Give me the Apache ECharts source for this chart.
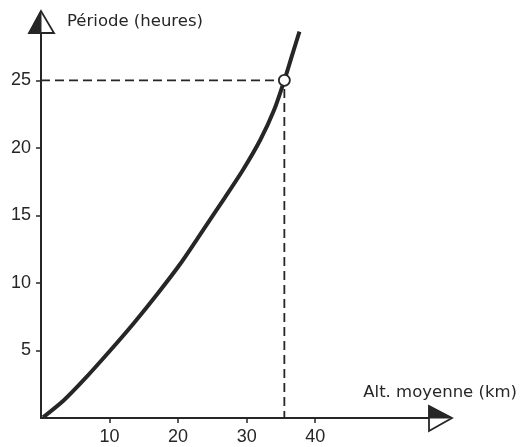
<!DOCTYPE html>
<html><head><meta charset="utf-8">
<script src="https://cdn.jsdelivr.net/npm/echarts@6/dist/echarts.min.js"></script>
<style>html,body{margin:0;padding:0;background:#fff}#c{width:520px;height:447px}</style>
</head><body><div id="c"></div>
<script>
// Data
var altitude = [0.3, 3.3, 6.2, 10.1, 13.5, 17.0, 20.3, 23.5, 26.8, 29.5, 32.0, 34.0, 35.5, 36.6, 37.7];
var period   = [0.05, 1.3, 2.8, 5.0, 7.0, 9.2, 11.4, 13.8, 16.3, 18.4, 20.6, 22.8, 25.0, 26.8, 28.6];
var geoAltitude = 35.5;
var geoPeriod = 25;
var xTicks = [10, 20, 30, 40];
var yTicks = [5, 10, 15, 20, 25];
var xMax = 56.6, yMax = 28.5;

var ink = '#262626';
var curve = altitude.map(function (a, i) { return [a, period[i]]; });

var chart = echarts.init(document.getElementById('c'), null, {renderer: 'canvas'});
chart.setOption({
  backgroundColor: '#fff',
  animation: false,
  grid: {left: 41, right: 91, top: 33, bottom: 29, containLabel: false},
  xAxis: {
    type: 'value', min: 0, max: xMax, interval: 10,
    name: 'Alt. moyenne (km)', nameLocation: 'end', nameGap: 88,
    nameTextStyle: {fontFamily: 'DejaVu Sans', fontSize: 16.5, color: ink, align: 'right', verticalAlign: 'bottom', padding: [0, 0, 17, 0]},
    axisLine: {show: true, lineStyle: {color: ink, width: 2}},
    axisTick: {show: true, length: 5, customValues: xTicks, lineStyle: {color: ink, width: 1.5}},
    axisLabel: {customValues: xTicks, margin: 10, fontFamily: 'Liberation Sans', fontSize: 18, color: ink},
    splitLine: {show: false}
  },
  yAxis: {
    type: 'value', min: 0, max: yMax, interval: 5,
    name: 'Période (heures)', nameLocation: 'end', nameGap: 11,
    nameTextStyle: {fontFamily: 'DejaVu Sans', fontSize: 16.5, color: ink, align: 'left', verticalAlign: 'middle', padding: [0, 0, 0, 26]},
    axisLine: {show: true, lineStyle: {color: ink, width: 2}},
    axisTick: {show: true, length: 5, customValues: yTicks, lineStyle: {color: ink, width: 1.5}},
    axisLabel: {customValues: yTicks, margin: 10, fontFamily: 'Liberation Sans', fontSize: 18, color: ink},
    splitLine: {show: false}
  },
  series: [
    {
      type: 'line', data: curve, smooth: 0.25, showSymbol: false,
      lineStyle: {color: ink, width: 4}, z: 3
    },
    {
      type: 'line', data: [[0, geoPeriod], [geoAltitude, geoPeriod], [geoAltitude, 0]],
      showSymbol: false, lineStyle: {color: ink, width: 1.8, type: [9, 5]}, z: 2
    },
    {
      type: 'scatter', data: [[geoAltitude, geoPeriod]], symbol: 'circle', symbolSize: 11,
      itemStyle: {color: '#fff', borderColor: ink, borderWidth: 1.8, opacity: 1}, z: 5
    },
    {
      type: 'custom', data: [[0, 0]], clip: false, z: 4, silent: true,
      renderItem: function (params, api) {
        var p = api.coord([0, yMax]);
        var q = api.coord([xMax, 0]);
        var st = {fill: '#fff', stroke: ink, lineWidth: 1.8};
        return {
          type: 'group',
          children: [
            {type: 'polygon', shape: {points: [[p[0], p[1] - 22], [p[0] - 12, p[1]], [p[0] + 13, p[1]]]}, style: st},
            {type: 'polygon', shape: {points: [[p[0], p[1] - 22], [p[0] - 12, p[1]], [p[0], p[1]]]}, style: {fill: ink, stroke: ink, lineWidth: 1}},
            {type: 'polygon', shape: {points: [[q[0] + 23, q[1]], [q[0], q[1] - 12], [q[0], q[1] + 13]]}, style: st},
            {type: 'polygon', shape: {points: [[q[0] + 23, q[1]], [q[0], q[1] - 12], [q[0], q[1]]]}, style: {fill: ink, stroke: ink, lineWidth: 1}}
          ]
        };
      }
    }
  ]
});
</script></body></html>
